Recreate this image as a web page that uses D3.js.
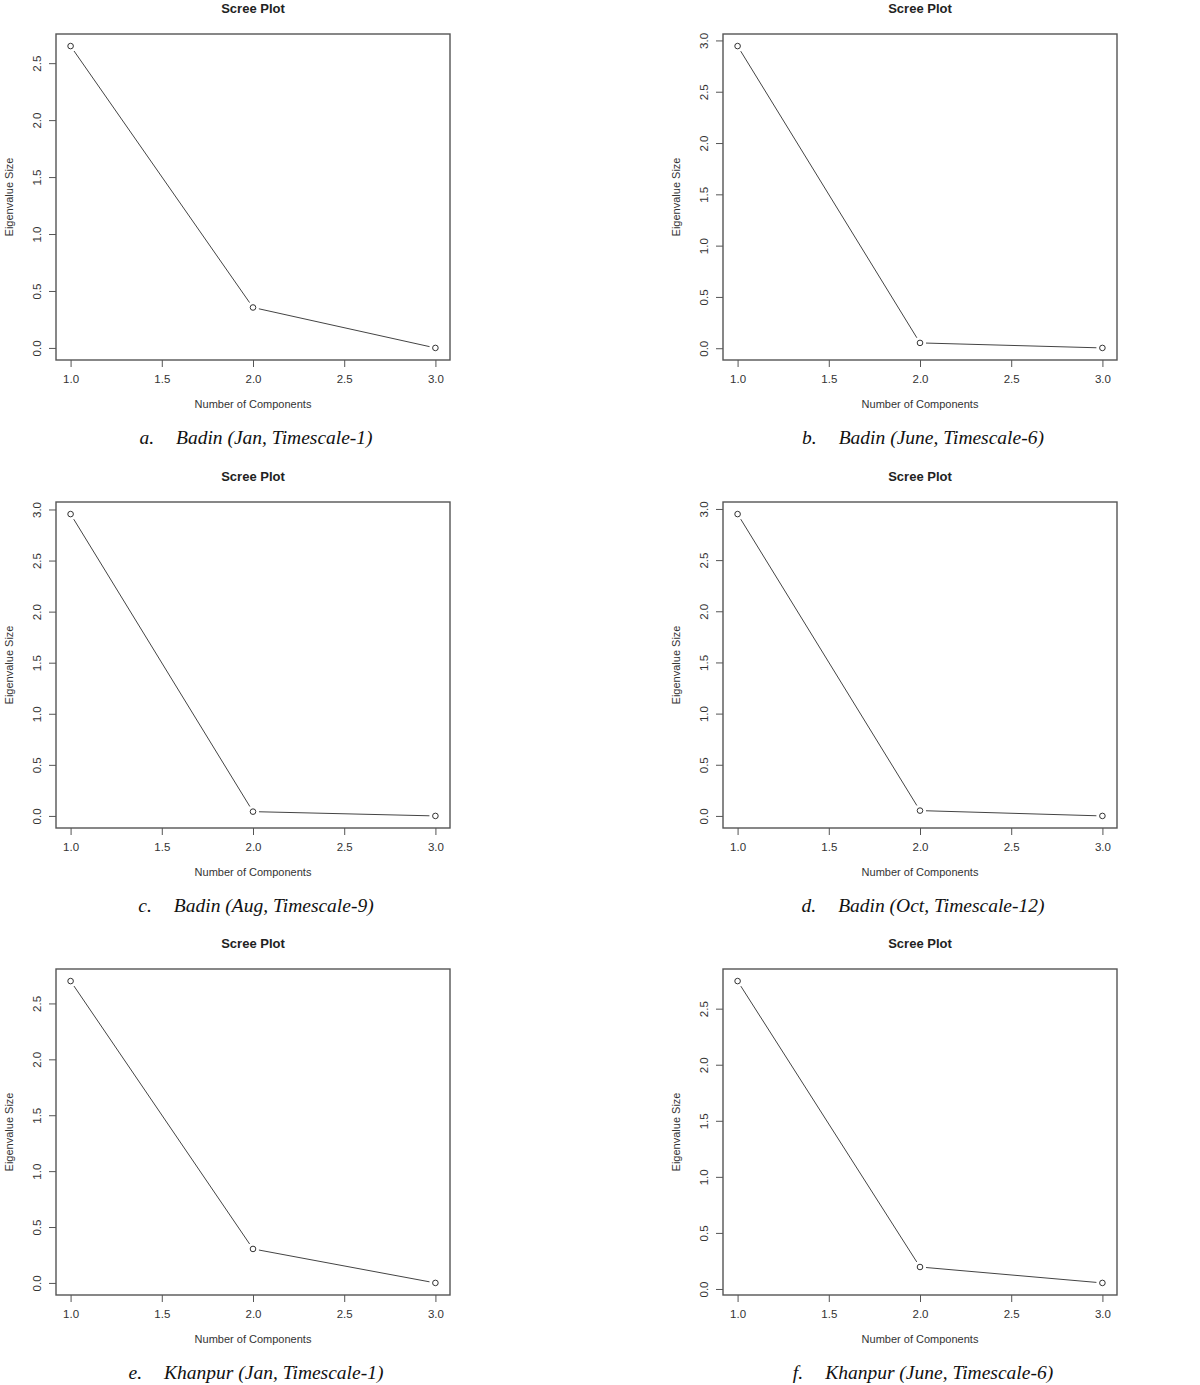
<!DOCTYPE html>
<html>
<head>
<meta charset="utf-8">
<script src="https://cdn.jsdelivr.net/npm/d3@7"></script>
<style>
  body { margin: 0; background: #fff; }
  svg { display: block; }
  .tick text { font-family: "Liberation Sans", Arial, sans-serif; font-size: 11.5px; fill: #333; }
</style>
</head>
<body>
<svg id="chart" width="1200" height="1385"></svg>
<script>
  // eigenvalues
  var components = [1, 2, 3];
  var badinJan = [2.65, 0.355, 0.0];
  var badinJune = [2.945, 0.052, 0.003];
  var badinAug = [2.955, 0.042, 0.0];
  var badinOct = [2.95, 0.052, 0.0];
  var khanpurJan = [2.70, 0.304, 0.0];
  var khanpurJune = [2.746, 0.196, 0.054];

  var xTicks = [1.0, 1.5, 2.0, 2.5, 3.0];
  var letters = ['a.', 'b.', 'c.', 'd.', 'e.', 'f.'];
  var captions = [
    'Badin (Jan, Timescale-1)',
    'Badin (June, Timescale-6)',
    'Badin (Aug, Timescale-9)',
    'Badin (Oct, Timescale-12)',
    'Khanpur (Jan, Timescale-1)',
    'Khanpur (June, Timescale-6)'
  ];
  var series = [badinJan, badinJune, badinAug, badinOct, khanpurJan, khanpurJune];

  var svg = d3.select('#chart');

  var boxW = 394, boxH = 326;
  var colX = [56, 723];
  var rowY = [34, 502, 969];

  // R style range: data range padded 4% on each side
  var padded = (ext) => {
    let r = ext[1] - ext[0];
    return [ext[0] - 0.04 * r, ext[1] + 0.04 * r];
  };

  var scree = (i) => {
    let vals = series[i];
    let left = colX[i % 2], top = rowY[Math.floor(i / 2)];

    let x = d3.scaleLinear()
        .domain(padded(d3.extent(components)))
        .range([0, boxW]);

    let y = d3.scaleLinear()
        .domain(padded(d3.extent(vals)))
        .range([boxH, 0]);

    let g = svg.append('g')
        .attr('transform', `translate(${ left }, ${ top })`);

    // x axis
    let xa = g.append('g')
        .attr('transform', `translate(0, ${ boxH })`)
        .call(d3.axisBottom(x).tickValues(xTicks).tickFormat(d3.format('.1f')).tickSize(7).tickPadding(8));
    xa.select('.domain').remove();
    xa.selectAll('line').attr('stroke', '#555');

    // y axis, labels parallel to the axis
    let ya = g.append('g')
        .call(d3.axisLeft(y).ticks(6).tickFormat(d3.format('.1f')).tickSize(7));
    ya.select('.domain').remove();
    ya.selectAll('line').attr('stroke', '#555');
    ya.selectAll('text')
        .attr('transform', 'rotate(-90)')
        .attr('text-anchor', 'middle')
        .attr('x', 0)
        .attr('y', -19)
        .attr('dy', '0.35em');

    // box
    g.append('rect')
        .attr('width', boxW)
        .attr('height', boxH)
        .attr('fill', 'none')
        .attr('stroke', '#555')
        .attr('stroke-width', 1.4);

    // line segments with the gap R leaves round each point (type = "b")
    let pts = components.map((c, k) => [x(c), y(vals[k])]);
    let gap = 6;
    let segs = d3.pairs(pts).map(([a, b]) => {
      let dx = b[0] - a[0], dy = b[1] - a[1];
      let len = Math.sqrt(dx * dx + dy * dy);
      let ux = dx / len, uy = dy / len;
      return [[a[0] + ux * gap, a[1] + uy * gap], [b[0] - ux * gap, b[1] - uy * gap]];
    });

    g.selectAll('.seg')
        .data(segs)
        .enter().append('path')
        .attr('class', 'seg')
        .attr('d', d3.line())
        .attr('fill', 'none')
        .attr('stroke', '#444')
        .attr('stroke-width', 1);

    g.selectAll('.pt')
        .data(components)
        .enter().append('circle')
        .attr('class', 'pt')
        .attr('cx', (c) => x(c))
        .attr('cy', (c, k) => y(vals[k]))
        .attr('r', 2.8)
        .attr('fill', 'none')
        .attr('stroke', '#333')
        .attr('stroke-width', 1);

    // titles
    g.append('text')
        .attr('x', boxW / 2)
        .attr('y', -21)
        .attr('text-anchor', 'middle')
        .attr('font-family', '"Liberation Sans", Arial, sans-serif')
        .attr('font-weight', 'bold')
        .attr('font-size', '13px')
        .attr('fill', '#222')
        .text('Scree Plot');

    g.append('text')
        .attr('x', boxW / 2)
        .attr('y', boxH + 48)
        .attr('text-anchor', 'middle')
        .attr('font-family', '"Liberation Sans", Arial, sans-serif')
        .attr('font-size', '11px')
        .attr('fill', '#333')
        .text('Number of Components');

    g.append('text')
        .attr('transform', `translate(-43, ${ boxH / 2 }) rotate(-90)`)
        .attr('text-anchor', 'middle')
        .attr('font-family', '"Liberation Sans", Arial, sans-serif')
        .attr('font-size', '11px')
        .attr('fill', '#333')
        .text('Eigenvalue Size');

    // caption under the panel
    let cap = g.append('g')
        .attr('font-family', '"Liberation Serif", "Times New Roman", serif')
        .attr('font-style', 'italic')
        .attr('font-size', '19.5px')
        .attr('fill', '#111');

    let lt = cap.append('text').text(letters[i]);
    let ct = cap.append('text').text(captions[i]);
    let lw = lt.node().getComputedTextLength();
    let cw = ct.node().getComputedTextLength();
    let capGap = 22;
    let start = boxW / 2 + 3 - (lw + capGap + cw) / 2;
    let baseY = boxH + 84;

    lt.attr('x', start).attr('y', baseY);
    ct.attr('x', start + lw + capGap).attr('y', baseY);
  };

  series.forEach((s, i) => scree(i));
</script>
</body>
</html>
